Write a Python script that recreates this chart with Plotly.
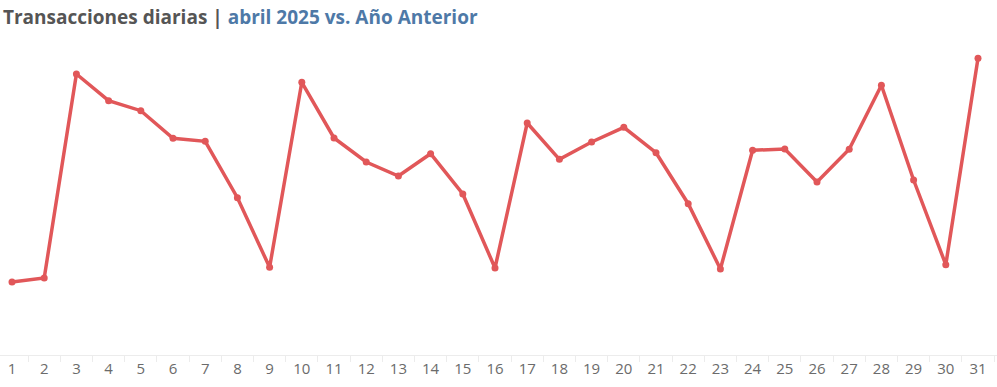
import plotly.graph_objects as go

days = [str(d) for d in range(1, 32)]
transacciones = [480, 520, 2560, 2293, 2193, 1917, 1887, 1323, 627, 2477,
                 1920, 1680, 1540, 1763, 1360, 620, 2070, 1707, 1880, 2027,
                 1773, 1263, 610, 1797, 1810, 1480, 1807, 2447, 1500, 653, 2717]

title_main = "Transacciones diarias |"
title_sub = "abril 2025 vs. Año Anterior"

fig = go.Figure()
fig.add_trace(go.Scatter(
    x=days, y=transacciones, mode="lines+markers",
    line=dict(color="#e15759", width=3.5),
    marker=dict(color="#e15759", size=7),
    hoverinfo="x+y", showlegend=False,
))

fig.update_layout(
    width=997, height=387,
    margin=dict(l=0, r=0, t=40, b=32),
    paper_bgcolor="white", plot_bgcolor="white",
    title=dict(
        text=f"<b><span style='color:#555555'>{title_main}</span> <span style='color:#4e79a7'>{title_sub}</span></b>",
        x=0.003, xanchor="left", xref="paper",
        y=1 - 17 / 387, yanchor="middle", yref="container",
        font=dict(family="Open Sans, sans-serif", size=19),
    ),
    xaxis=dict(
        type="category", range=[-0.373, 30.59],
        showgrid=False, zeroline=False,
        showline=True, linecolor="#ececec", linewidth=1,
        ticks="outside", tickson="boundaries", ticklen=6, tickcolor="#ececec",
        tickfont=dict(family="Open Sans, sans-serif", size=15, color="#6b6b6b"),
    ),
    yaxis=dict(
        range=[-250, 2900], visible=False, showgrid=False, zeroline=False,
    ),
)

fig.write_html("out.html", config={"displayModeBar": False},
               post_script="document.body.style.margin='0px';")
